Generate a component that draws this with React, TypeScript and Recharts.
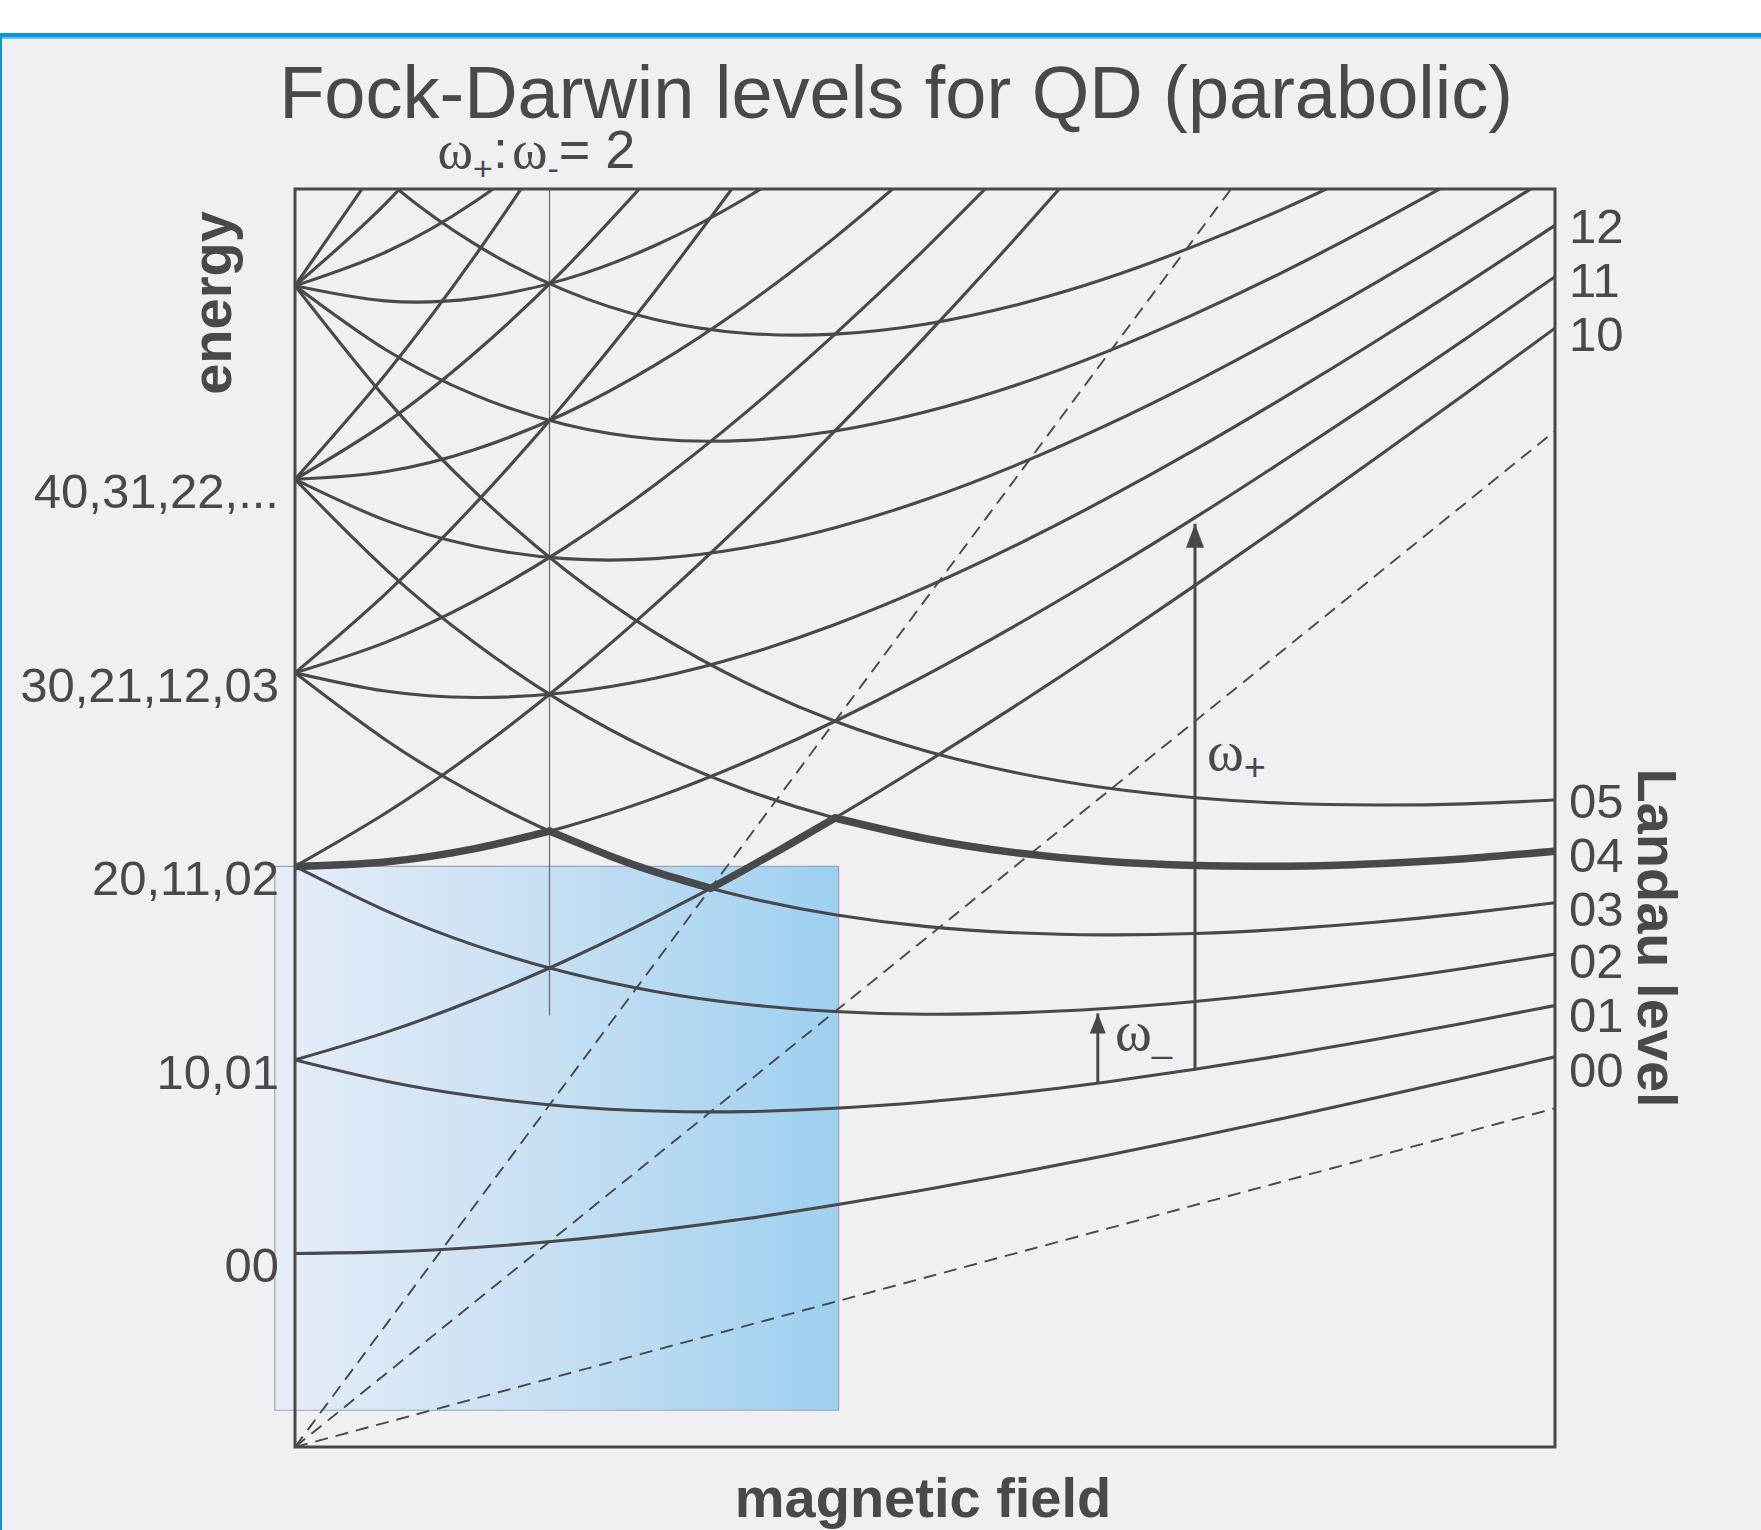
import React from 'react';
import { LineChart, Line, XAxis, YAxis, ReferenceArea, ReferenceLine, ReferenceDot } from 'recharts';

const INK = '#48484d';
const SANS = '"Liberation Sans", Arial, Helvetica, sans-serif';
const SERIF = '"Liberation Serif", "DejaVu Serif", serif';

// magnetic field axis, in units of the confinement frequency
const field = [0, 0.25, 0.5, 0.75, 1, 1.25, 1.5, 1.75, 2, 2.25, 2.5, 2.75, 3, 3.25, 3.5];

// Fock-Darwin levels (n+, n-), energy in units of w0
const lvl00 = [1.0, 1.008, 1.031, 1.068, 1.118, 1.179, 1.25, 1.329, 1.414, 1.505, 1.601, 1.7, 1.803, 1.908, 2.016];
const lvl10 = [2.0, 2.141, 2.312, 2.511, 2.736, 2.983, 3.25, 3.533, 3.828, 4.135, 4.452, 4.775, 5.106, 5.441, 5.781];
const lvl01 = [2.0, 1.891, 1.812, 1.761, 1.736, 1.733, 1.75, 1.783, 1.828, 1.885, 1.952, 2.025, 2.106, 2.191, 2.281];
const lvl20 = [3.0, 3.273, 3.592, 3.954, 4.354, 4.788, 5.25, 5.736, 6.243, 6.766];
const lvl11 = [3.0, 3.023, 3.092, 3.204, 3.354, 3.538, 3.75, 3.986, 4.243, 4.516, 4.802, 5.101, 5.408, 5.724, 6.047];
const lvl02 = [3.0, 2.773, 2.592, 2.454, 2.354, 2.288, 2.25, 2.236, 2.243, 2.266, 2.302, 2.351, 2.408, 2.474, 2.547];
const lvl30 = [4.0, 4.406, 4.873, 5.397, 5.972, 6.592];
const lvl21 = [4.0, 4.156, 4.373, 4.647, 4.972, 5.342, 5.75, 6.19, 6.657];
const lvl12 = [4.0, 3.906, 3.873, 3.897, 3.972, 4.092, 4.25, 4.44, 4.657, 4.896, 5.153, 5.426, 5.711, 6.007, 6.312];
const lvl03 = [4.0, 3.656, 3.373, 3.147, 2.972, 2.842, 2.75, 2.69, 2.657, 2.646, 2.653, 2.676, 2.711, 2.757, 2.812];
const lvl40 = [5.0, 5.539, 6.154, 6.84];
const lvl31 = [5.0, 5.289, 5.654, 6.09, 6.59];
const lvl22 = [5.0, 5.039, 5.154, 5.34, 5.59, 5.896, 6.25, 6.644];
const lvl13 = [5.0, 4.789, 4.654, 4.59, 4.59, 4.646, 4.75, 4.894, 5.071, 5.276, 5.504, 5.751, 6.014, 6.29, 6.578];
const lvl04 = [5.0, 4.539, 4.154, 3.84, 3.59, 3.396, 3.25, 3.144, 3.071, 3.026, 3.004, 3.001, 3.014, 3.04, 3.078];
const lvl50 = [6.0, 6.672];
const lvl41 = [6.0, 6.422, 6.935];
const lvl32 = [6.0, 6.172, 6.435, 6.783];
const lvl23 = [6.0, 5.922, 5.935, 6.033, 6.208, 6.451, 6.75];
const lvl14 = [6.0, 5.672, 5.435, 5.283, 5.208, 5.201, 5.25, 5.348, 5.485, 5.656, 5.855, 6.076, 6.317, 6.573];
const lvl05 = [6.0, 5.422, 4.935, 4.533, 4.208, 3.951, 3.75, 3.598, 3.485, 3.406, 3.355, 3.326, 3.317, 3.323, 3.343];
const lvl15 = [7.0, 6.554, 6.215, 5.976, 5.826, 5.755, 5.75, 5.801, 5.899, 6.036, 6.206, 6.401, 6.619];

const levels: [string, number[]][] = [
  ['00', lvl00], ['10', lvl10], ['01', lvl01],
  ['20', lvl20], ['11', lvl11], ['02', lvl02],
  ['30', lvl30], ['21', lvl21], ['12', lvl12], ['03', lvl03],
  ['40', lvl40], ['31', lvl31], ['22', lvl22], ['13', lvl13], ['04', lvl04],
  ['50', lvl50], ['41', lvl41], ['32', lvl32], ['23', lvl23], ['14', lvl14], ['05', lvl05],
  ['15', lvl15],
];

// highlighted (thick) level, in four pieces between the crossings
const thickAField = [0, 0.25, 0.5, 0.707];
const thickAEnergy = [3.0, 3.023, 3.092, 3.182];
const thickBField = [0.707, 0.875, 1.0, 1.155];
const thickBEnergy = [3.182, 3.054, 2.972, 2.887];
const thickCField = [1.155, 1.25, 1.375, 1.5];
const thickCEnergy = [2.887, 2.984, 3.115, 3.25];
const thickDField = [1.5, 1.75, 2.0, 2.25, 2.5, 2.75, 3.0, 3.25, 3.5];
const thickDEnergy = [3.25, 3.144, 3.071, 3.026, 3.004, 3.001, 3.014, 3.04, 3.078];

// free Landau levels (dashed)
const landauField = [0, 3.5];
const landau0 = [0, 1.75];
const landau1 = [0, 5.25];
const landau2 = [0, 8.75];

// arrows
const plusArrowField = [2.5, 2.5];
const plusArrowEnergy = [1.95, 4.77];
const minusArrowField = [2.23, 2.23];
const minusArrowEnergy = [1.88, 2.24];

const leftLabels = ['00', '10,01', '20,11,02', '30,21,12,03', '40,31,22,...'];
const leftLabelEnergy = [1, 2, 3, 4, 5];
const rightLabels = ['12', '11', '10', '05', '04', '03', '02', '01', '00'];
const rightLabelEnergy = [6.31, 6.03, 5.75, 3.34, 3.06, 2.78, 2.51, 2.23, 1.95];

const ratioField = 0.707;

const table = field.map((f, i) => {
  const row: Record<string, number> = { f };
  levels.forEach(([k, v]) => {
    if (i < v.length) row['l' + k] = v[i];
  });
  return row;
});

const toRows = (xs: number[], ys: number[]) => xs.map((f, i) => ({ f, e: ys[i] }));

const thickPieces = [
  toRows(thickAField, thickAEnergy),
  toRows(thickBField, thickBEnergy),
  toRows(thickCField, thickCEnergy),
  toRows(thickDField, thickDEnergy),
];

const arrowHead = (w: number, h: number) => (p: any) => {
  if (p.index !== 1) return <g key={'n' + p.index} />;
  return (
    <polygon
      key={'h' + p.index}
      points={`${p.cx},${p.cy} ${p.cx - w / 2},${p.cy + h} ${p.cx + w / 2},${p.cy + h}`}
      fill={INK}
    />
  );
};

export default function App() {
  return (
    <div style={{ position: 'absolute', left: 0, top: 0, width: 1761, height: 1530, background: '#efeff4', overflow: 'hidden' }}>
      <div style={{ position: 'absolute', left: 0, top: 0, width: 1761, height: 33, background: '#ffffff' }} />
      <div style={{ position: 'absolute', left: 0, top: 33, width: 1761, height: 4, background: '#0a97d9' }} />
      <div style={{ position: 'absolute', left: 0, top: 37, width: 1761, height: 2, background: '#6dbde6' }} />
      <div style={{ position: 'absolute', left: 0, top: 33, width: 2, height: 1497, background: '#0a97d9' }} />

      <div style={{ position: 'absolute', left: 0, top: 0 }}>
        <LineChart width={1761} height={1530} data={table} margin={{ top: 189, right: 206, bottom: 83, left: 295 }}>
          <defs>
            <linearGradient id="fdShade" x1="0" y1="0" x2="1" y2="0">
              <stop offset="0%" stopColor="#e7edf7" />
              <stop offset="50%" stopColor="#c6dff3" />
              <stop offset="100%" stopColor="#9dd0f0" />
            </linearGradient>
          </defs>

          <XAxis dataKey="f" type="number" domain={[0, 3.5]} allowDataOverflow hide />
          <YAxis type="number" domain={[0, 6.5]} allowDataOverflow hide />

          <ReferenceArea
            x1={-0.056}
            x2={1.51}
            y1={0.19}
            y2={3.0}
            ifOverflow="visible"
            fill="url(#fdShade)"
            fillOpacity={1}
            stroke="#9ca6b0"
            strokeWidth={1.2}
          />

          <ReferenceLine
            segment={[{ x: ratioField, y: 2.23 }, { x: ratioField, y: 6.5 }]}
            stroke="#6d6d72"
            strokeWidth={1.3}
            ifOverflow="visible"
          />

          {/* free Landau levels */}
          {[landau0, landau1, landau2].map((ys, i) => (
            <Line
              key={'landau' + i}
              data={toRows(landauField, ys)}
              dataKey="e"
              type="linear"
              stroke={INK}
              strokeWidth={1.9}
              strokeDasharray="13 8"
              dot={false}
              activeDot={false}
              isAnimationActive={false}
            />
          ))}

          {levels.map(([k]) => (
            <Line
              key={k}
              dataKey={'l' + k}
              type="natural"
              stroke={INK}
              strokeWidth={3.1}
              dot={false}
              activeDot={false}
              connectNulls={false}
              isAnimationActive={false}
            />
          ))}

          {thickPieces.map((rows, i) => (
            <Line
              key={'thick' + i}
              data={rows}
              dataKey="e"
              type="natural"
              stroke={INK}
              strokeWidth={7.5}
              strokeLinecap="round"
              dot={false}
              activeDot={false}
              isAnimationActive={false}
            />
          ))}

          <Line
            data={toRows(plusArrowField, plusArrowEnergy)}
            dataKey="e"
            type="linear"
            stroke={INK}
            strokeWidth={3}
            dot={arrowHead(18, 24)}
            activeDot={false}
            isAnimationActive={false}
          />
          <Line
            data={toRows(minusArrowField, minusArrowEnergy)}
            dataKey="e"
            type="linear"
            stroke={INK}
            strokeWidth={3}
            dot={arrowHead(16, 20)}
            activeDot={false}
            isAnimationActive={false}
          />

          {leftLabels.map((t, i) => (
            <ReferenceDot
              key={'ll' + i}
              x={0}
              y={leftLabelEnergy[i]}
              r={0}
              ifOverflow="visible"
              shape={(p: any) => (
                <text x={p.cx - 16} y={p.cy + 29} textAnchor="end" fontFamily={SANS} fontSize={49} fill={INK}>
                  {t}
                </text>
              )}
            />
          ))}

          {rightLabels.map((t, i) => (
            <ReferenceDot
              key={'rl' + i}
              x={3.5}
              y={rightLabelEnergy[i]}
              r={0}
              ifOverflow="visible"
              shape={(p: any) => (
                <text x={p.cx + 14} y={p.cy + 17} textAnchor="start" fontFamily={SANS} fontSize={49} fill={INK}>
                  {t}
                </text>
              )}
            />
          ))}

          <ReferenceDot
            x={ratioField}
            y={6.5}
            r={0}
            ifOverflow="visible"
            shape={(p: any) => (
              <text x={p.cx - 112} y={p.cy - 21} fontFamily={SANS} fontSize={54} fill={INK}>
                <tspan fontFamily={SERIF}>ω</tspan>
                <tspan fontSize={34} dy={12}>+</tspan>
                <tspan dy={-12}>:</tspan>
                <tspan fontFamily={SERIF} dx={4}>ω</tspan>
                <tspan fontSize={34} dy={12}>-</tspan>
                <tspan dy={-12}>= 2</tspan>
              </text>
            )}
          />

          <ReferenceDot
            x={2.533}
            y={3.5}
            r={0}
            ifOverflow="visible"
            shape={(p: any) => (
              <text x={p.cx} y={p.cy} fontFamily={SERIF} fontSize={56} fill={INK}>
                ω<tspan fontFamily={SANS} fontSize={38} dy={10}>+</tspan>
              </text>
            )}
          />
          <ReferenceDot
            x={2.278}
            y={2.05}
            r={0}
            ifOverflow="visible"
            shape={(p: any) => (
              <text x={p.cx} y={p.cy} fontFamily={SERIF} fontSize={56} fill={INK}>
                ω<tspan fontFamily={SANS} fontSize={36} dy={2}>_</tspan>
              </text>
            )}
          />

          {/* plot frame */}
          <ReferenceArea x1={0} x2={3.5} y1={0} y2={6.5} ifOverflow="visible" fill="none" stroke={INK} strokeWidth={3} />
        </LineChart>
      </div>

      <svg width={1761} height={1530} style={{ position: 'absolute', left: 0, top: 0, pointerEvents: 'none' }}>
        <text x={896} y={118} textAnchor="middle" fontFamily={SANS} fontSize={74} fill={INK}>
          Fock-Darwin levels for QD (parabolic)
        </text>
        <text transform="translate(231,303) rotate(-90)" textAnchor="middle" fontFamily={SANS} fontWeight="bold" fontSize={56} fill={INK}>
          energy
        </text>
        <text x={923} y={1517} textAnchor="middle" fontFamily={SANS} fontWeight="bold" fontSize={56} fill={INK}>
          magnetic field
        </text>
        <text transform="translate(1638,938) rotate(90)" textAnchor="middle" fontFamily={SANS} fontWeight="bold" fontSize={56} fill={INK}>
          Landau level
        </text>
      </svg>
    </div>
  );
}
